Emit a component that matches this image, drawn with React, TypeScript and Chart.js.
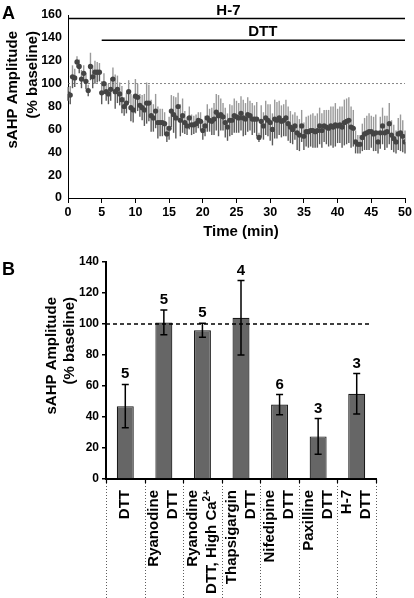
import React, { useEffect, useRef } from "react";
import { Chart, registerables } from "chart.js";

Chart.register(...registerables);

const FONT = '"Liberation Sans", Arial, Helvetica, sans-serif';

// ---------- Panel A data ----------
const SWEEP_MIN = 1 / 3; // one sweep every 20 s
const timeValues = [
  91, 90, 106, 105, 119, 115, 104, 109, 102, 94, 115, 106, 110, 110, 110,
  92, 100, 93, 91, 95, 104, 93, 95, 91, 86, 80, 83, 93, 79, 77,
  89, 88, 81, 79, 77, 83, 83, 72, 70, 76, 66, 66, 66, 65, 56,
  61, 76, 73, 70, 80, 68, 72, 66, 63, 70, 64, 64, 65, 68, 67,
  59, 63, 70, 68, 67, 69, 75, 72, 73, 71, 66, 62, 68, 68, 72,
  71, 70, 74, 70, 69, 73, 72, 69, 69, 69, 53, 67, 63, 70, 68,
  66, 60, 69, 68, 70, 67, 68, 70, 65, 62, 60, 63, 57, 55, 63,
  54, 58, 58, 59, 59, 58, 59, 63, 59, 63, 62, 61, 63, 62, 64,
  63, 64, 62, 66, 67, 68, 62, 61, 49, 47, 47, 53, 56, 57, 58,
  58, 56, 57, 49, 57, 63, 57, 58, 65, 55, 52, 49, 56, 57, 54,
  49,
];
const timeErrors = [
  6, 8, 10, 8, 5, 6, 8, 7, 7, 5, 12, 10, 10, 9, 8,
  10, 9, 8, 9, 10, 10, 15, 12, 10, 12, 8, 9, 10, 12, 11,
  15, 12, 10, 11, 14, 18, 16, 14, 12, 15, 14, 12, 12, 10, 7,
  10, 14, 16, 18, 12, 14, 15, 10, 8, 10, 9, 8, 8, 7, 8,
  8, 9, 12, 10, 12, 14, 16, 18, 14, 12, 13, 12, 14, 13, 15,
  14, 13, 15, 16, 14, 15, 13, 14, 12, 15, 4, 14, 12, 15, 14,
  16, 14, 17, 16, 15, 14, 14, 16, 15, 14, 13, 12, 15, 14, 14,
  12, 13, 14, 14, 15, 14, 15, 16, 15, 14, 15, 16, 17, 18, 19,
  15, 16, 18, 20, 20, 20, 18, 16, 10, 8, 8, 12, 14, 15, 16,
  14, 15, 16, 10, 14, 16, 15, 14, 18, 13, 12, 10, 14, 16, 14,
  10,
];
const drugNames = ["H-7", "DTT"];
const drugStart = [0, 5];
const drugEnd = [50, 50];
const drugLevel = [157, 138];
const drugLabelAt = [23.8, 28.9];
const baselineA = 100;

// ---------- Panel B data ----------
const condLine1 = ["", "Ryanodine", "Ryanodine", "Thapsigargin", "Nifedipine", "Paxilline", "H-7"];
const condLine2 = ["DTT", "DTT", "DTT, High Ca", "DTT", "DTT", "DTT", "DTT"];
const condSup = ["", "", "2+", "", "", "", ""];
const barMeans = [47, 101, 96, 104, 48, 27.5, 55];
const barSems = [14, 8, 4.5, 24, 6.5, 11.5, 13];
const barNs = ["5", "5", "5", "4", "6", "3", "3"];
const baselineB = 100;

function rotatedText(ctx: CanvasRenderingContext2D, text: string, cx: number, topY: number) {
  ctx.save();
  ctx.translate(cx, topY);
  ctx.rotate(-Math.PI / 2);
  ctx.textAlign = "right";
  ctx.textBaseline = "middle";
  ctx.fillText(text, 0, 0);
  ctx.restore();
}

function PanelA() {
  const ref = useRef<HTMLCanvasElement>(null);
  useEffect(() => {
    const canvas = ref.current!;
    const pts = timeValues.map((v, i) => ({ x: i * SWEEP_MIN, y: v }));
    const plugin = {
      id: "panelA",
      beforeDatasetsDraw(chart: any) {
        const { ctx, scales } = chart;
        const x = scales.x, y = scales.y;
        ctx.save();
        // baseline dotted line
        ctx.strokeStyle = "#666";
        ctx.lineWidth = 0.8;
        ctx.setLineDash([2, 2]);
        ctx.beginPath();
        ctx.moveTo(x.getPixelForValue(0), y.getPixelForValue(baselineA));
        ctx.lineTo(x.getPixelForValue(50), y.getPixelForValue(baselineA));
        ctx.stroke();
        ctx.setLineDash([]);
        // error bars: upper half lighter, lower half darker
        ctx.lineWidth = 1.4;
        timeValues.forEach((v, i) => {
          const px = x.getPixelForValue(i * SWEEP_MIN);
          const mid = y.getPixelForValue(v);
          ctx.strokeStyle = "#9a9a9a";
          ctx.beginPath();
          ctx.moveTo(px, y.getPixelForValue(v + timeErrors[i]));
          ctx.lineTo(px, mid);
          ctx.stroke();
          ctx.strokeStyle = "#5a5a5a";
          ctx.beginPath();
          ctx.moveTo(px, mid);
          ctx.lineTo(px, y.getPixelForValue(v - timeErrors[i]));
          ctx.stroke();
        });
        ctx.restore();
      },
      afterDraw(chart: any) {
        const { ctx, scales } = chart;
        const x = scales.x, y = scales.y;
        ctx.save();
        ctx.fillStyle = "#000";
        ctx.font = `bold 15px ${FONT}`;
        ctx.textAlign = "center";
        ctx.textBaseline = "middle";
        drugNames.forEach((n, i) => {
          ctx.fillText(n, x.getPixelForValue(drugLabelAt[i]), y.getPixelForValue(drugLevel[i]) - 8);
        });
        ctx.font = `bold 15px ${FONT}`;
        ctx.fillText("Time (min)", 241, 232);
        rotatedText(ctx, "sAHP Amplitude", 13, 31);
        rotatedText(ctx, "(% baseline)", 33, 31);
        ctx.font = `bold 18px ${FONT}`;
        ctx.textAlign = "left";
        ctx.textBaseline = "alphabetic";
        ctx.fillText("A", 2, 19);
        ctx.restore();
      },
    };
    const chart = new Chart(canvas, {
      type: "scatter",
      data: {
        datasets: [
          {
            data: pts,
            showLine: false,
            pointRadius: 2.6,
            pointBackgroundColor: "#444",
            pointBorderWidth: 0,
            order: 1,
          } as any,
          ...drugNames.map((n, i) => ({
            label: n,
            data: [
              { x: drugStart[i], y: drugLevel[i] },
              { x: drugEnd[i], y: drugLevel[i] },
            ],
            showLine: true,
            borderColor: "#000",
            borderWidth: 1.5,
            pointRadius: 0,
            order: 2,
          })),
        ],
      },
      options: {
        responsive: false,
        animation: false,
        events: [],
        layout: { padding: { top: 15, right: 9, left: 0, bottom: 0 } },
        plugins: { legend: { display: false }, tooltip: { enabled: false } },
        scales: {
          x: {
            type: "linear",
            min: 0,
            max: 50,
            afterFit: (s: any) => { s.height = 47; },
            ticks: { stepSize: 5, color: "#000", font: { family: FONT, weight: "bold", size: 12.5 }, padding: 2, maxRotation: 0, autoSkip: false },
            grid: { display: true, drawOnChartArea: false, drawTicks: true, tickLength: 5, color: "#000", lineWidth: 1 },
            border: { display: true, color: "#000", width: 1 },
          },
          y: {
            min: 0,
            max: 160,
            afterFit: (s: any) => { s.width = 68; },
            ticks: { stepSize: 20, color: "#000", font: { family: FONT, weight: "bold", size: 12.5 }, padding: 6 },
            grid: { display: false, drawTicks: false },
            border: { display: true, color: "#000", width: 1 },
          },
        },
      } as any,
      plugins: [plugin],
    });
    return () => chart.destroy();
  }, []);
  return <canvas ref={ref} width={414} height={245} style={{ position: "absolute", left: 0, top: 0 }} />;
}

function PanelB() {
  const ref = useRef<HTMLCanvasElement>(null);
  useEffect(() => {
    const canvas = ref.current!;
    const plugin = {
      id: "panelB",
      afterDatasetsDraw(chart: any) {
        const { ctx, scales, chartArea } = chart;
        const x = scales.x, y = scales.y;
        ctx.save();
        // dashed 100% line
        ctx.strokeStyle = "#000";
        ctx.lineWidth = 1.5;
        ctx.setLineDash([4, 3]);
        ctx.beginPath();
        ctx.moveTo(chartArea.left, y.getPixelForValue(baselineB));
        ctx.lineTo(chartArea.right - 5, y.getPixelForValue(baselineB));
        ctx.stroke();
        ctx.setLineDash([]);
        // error bars + n labels
        ctx.lineWidth = 1.5;
        ctx.fillStyle = "#000";
        ctx.font = `bold 15px ${FONT}`;
        ctx.textAlign = "center";
        ctx.textBaseline = "alphabetic";
        barMeans.forEach((m, i) => {
          const px = x.getPixelForValue(i);
          const top = y.getPixelForValue(m + barSems[i]);
          const bot = y.getPixelForValue(m - barSems[i]);
          ctx.beginPath();
          ctx.moveTo(px, top);
          ctx.lineTo(px, bot);
          ctx.moveTo(px - 3.5, top);
          ctx.lineTo(px + 3.5, top);
          ctx.moveTo(px - 3.5, bot);
          ctx.lineTo(px + 3.5, bot);
          ctx.stroke();
          ctx.fillText(barNs[i], px, top - 6);
        });
        ctx.restore();
      },
      afterDraw(chart: any) {
        const { ctx, scales, chartArea, height } = chart;
        const x = scales.x;
        ctx.save();
        // separators
        for (let i = 0; i <= condLine2.length; i++) {
          const bx = Math.round(x.getPixelForValue(i - 0.5)) + 0.5;
          ctx.strokeStyle = "#000";
          ctx.lineWidth = 1.2;
          ctx.setLineDash([]);
          ctx.beginPath();
          ctx.moveTo(bx, chartArea.bottom);
          ctx.lineTo(bx, chartArea.bottom + 4);
          ctx.stroke();
          ctx.strokeStyle = "#333";
          ctx.lineWidth = 0.8;
          ctx.setLineDash([1, 2]);
          ctx.beginPath();
          ctx.moveTo(bx, chartArea.bottom + 4);
          ctx.lineTo(bx, height);
          ctx.stroke();
        }
        ctx.setLineDash([]);
        // category labels
        ctx.fillStyle = "#000";
        const topY = chartArea.bottom + 11;
        condLine2.forEach((l2, i) => {
          const cx = x.getPixelForValue(i);
          const l1 = condLine1[i];
          const c2 = l1 ? cx + 9.5 : cx;
          if (l1) {
            ctx.font = `bold 15px ${FONT}`;
            rotatedText(ctx, l1, cx - 9.5, topY);
          }
          ctx.save();
          ctx.translate(c2, topY);
          ctx.rotate(-Math.PI / 2);
          ctx.textBaseline = "middle";
          ctx.textAlign = "right";
          let off = 0;
          if (condSup[i]) {
            ctx.font = `bold 10px ${FONT}`;
            off = ctx.measureText(condSup[i]).width;
            ctx.fillText(condSup[i], 0, -5);
          }
          ctx.font = `bold 15px ${FONT}`;
          ctx.fillText(l2, -off, 0);
          ctx.restore();
        });
        // y title & panel letter
        ctx.font = `bold 15px ${FONT}`;
        rotatedText(ctx, "sAHP Amplitude", 52, 52);
        rotatedText(ctx, "(% baseline)", 70, 52);
        ctx.font = `bold 18px ${FONT}`;
        ctx.textAlign = "left";
        ctx.textBaseline = "alphabetic";
        ctx.fillText("B", 2, 30);
        ctx.restore();
      },
    };
    const chart = new Chart(canvas, {
      type: "bar",
      data: {
        labels: condLine2.map((l, i) => (condLine1[i] ? condLine1[i] + " " : "") + l + condSup[i]),
        datasets: [
          {
            data: barMeans,
            backgroundColor: "#666666",
            borderColor: "#1a1a1a",
            borderWidth: 1.2,
            barPercentage: 0.44,
            categoryPercentage: 1,
          },
        ],
      },
      options: {
        responsive: false,
        animation: false,
        events: [],
        layout: { padding: { top: 17, right: 38, left: 0, bottom: 0 } },
        plugins: { legend: { display: false }, tooltip: { enabled: false } },
        scales: {
          x: {
            afterFit: (s: any) => { s.height = 119; },
            ticks: { display: false },
            grid: { display: false, drawTicks: false },
            border: { display: true, color: "#000", width: 2 },
          },
          y: {
            min: 0,
            max: 140,
            afterFit: (s: any) => { s.width = 106; },
            ticks: { stepSize: 20, color: "#000", font: { family: FONT, weight: "bold", size: 12 }, padding: 3 },
            grid: { display: true, drawOnChartArea: false, drawTicks: true, tickLength: 4, color: "#000", lineWidth: 1.5 },
            border: { display: true, color: "#000", width: 2 },
          },
        },
      } as any,
      plugins: [plugin],
    });
    return () => chart.destroy();
  }, []);
  return <canvas ref={ref} width={414} height={353} style={{ position: "absolute", left: 0, top: 245 }} />;
}

export default function App() {
  return (
    <div style={{ position: "fixed", left: 0, top: 0, width: 414, height: 598, background: "#fff", overflow: "hidden" }}>
      <PanelA />
      <PanelB />
    </div>
  );
}
